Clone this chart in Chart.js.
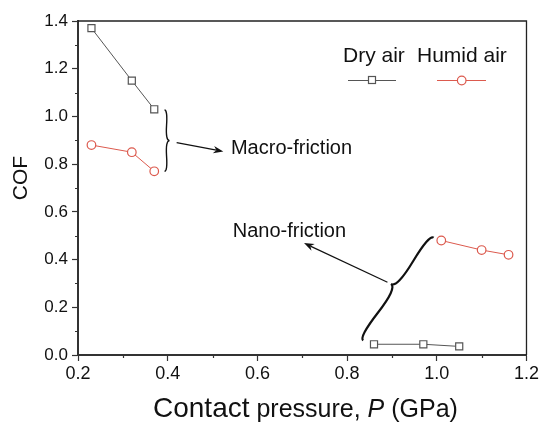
<!DOCTYPE html>
<html>
<head>
<meta charset="utf-8">
<script src="https://cdn.jsdelivr.net/npm/chart.js@4/dist/chart.umd.min.js"></script>
<style>
  html, body { margin: 0; padding: 0; background: #fff; }
  #wrap { width: 541px; height: 423px; }
</style>
</head>
<body>
<div id="wrap"><canvas id="cof" width="541" height="423"></canvas></div>
<script>
// contact pressure (GPa) / COF — first 3 points macro-friction, last 3 nano-friction
const dryP = [0.23, 0.32, 0.37, 0.86, 0.97, 1.05];
const dryCOF = [1.37, 1.15, 1.03, 0.045, 0.045, 0.036];
const humidP = [0.23, 0.32, 0.37, 1.01, 1.10, 1.16];
const humidCOF = [0.88, 0.85, 0.77, 0.48, 0.44, 0.42];
const seriesNames = ["Dry air", "Humid air"];

const xTickLabels = ["0.2", "0.4", "0.6", "0.8", "1.0", "1.2"];
const yTickLabels = ["0.0", "0.2", "0.4", "0.6", "0.8", "1.0", "1.2", "1.4"];

const FONT = "'Liberation Sans', Arial, sans-serif";
const DRY = "#555555";
const HUMID = "#dc5a4e";

function pts(xs, ys, from, to) {
  const out = [];
  for (let i = from; i < to; i++) out.push({ x: xs[i], y: ys[i] });
  return out;
}

function series(label, xs, ys, from, to, color, shape, r) {
  return {
    label: label,
    data: pts(xs, ys, from, to),
    showLine: true,
    borderColor: color,
    borderWidth: 1,
    pointStyle: shape,
    pointRadius: r,
    pointBorderColor: color,
    pointBackgroundColor: "#fff",
    pointBorderWidth: 1.2
  };
}

// annotation positions, in data units
const macroBrace = { x1: 0.393, y1: 0.77, x2: 0.393, y2: 1.027, w: 5 };
const nanoBrace = { x1: 0.993, y1: 0.492, x2: 0.836, y2: 0.061, w: 9 };
const macroArrow = { x1: 0.42, y1: 0.89, x2: 0.524, y2: 0.853 };
const nanoArrow = { x1: 0.89, y1: 0.305, x2: 0.704, y2: 0.469 };
const macroText = { x: 0.541, y: 0.864, text: "Macro-friction" };
const nanoText = { x: 0.545, y: 0.519, text: "Nano-friction" };

function brace(ctx, x1, y1, x2, y2, w, q) {
  let dx = x1 - x2, dy = y1 - y2;
  const len = Math.hypot(dx, dy);
  dx /= len; dy /= len;
  const qx1 = x1 + q * w * dy, qy1 = y1 - q * w * dx;
  const qx2 = (x1 - 0.25 * len * dx) + (1 - q) * w * dy, qy2 = (y1 - 0.25 * len * dy) - (1 - q) * w * dx;
  const tx = (x1 - 0.5 * len * dx) + w * dy, ty = (y1 - 0.5 * len * dy) - w * dx;
  const qx3 = x2 + q * w * dy, qy3 = y2 - q * w * dx;
  const qx4 = (x1 - 0.75 * len * dx) + (1 - q) * w * dy, qy4 = (y1 - 0.75 * len * dy) - (1 - q) * w * dx;
  ctx.beginPath();
  ctx.moveTo(x1, y1);
  ctx.quadraticCurveTo(qx1, qy1, qx2, qy2);
  ctx.quadraticCurveTo(2 * qx2 - qx1, 2 * qy2 - qy1, tx, ty);
  ctx.moveTo(x2, y2);
  ctx.quadraticCurveTo(qx3, qy3, qx4, qy4);
  ctx.quadraticCurveTo(2 * qx4 - qx3, 2 * qy4 - qy3, tx, ty);
  ctx.stroke();
}

function arrow(ctx, x1, y1, x2, y2, head) {
  const a = Math.atan2(y2 - y1, x2 - x1);
  const c = Math.cos(a), s = Math.sin(a);
  ctx.beginPath();
  ctx.moveTo(x1, y1);
  ctx.lineTo(x2 - c * head * 0.7, y2 - s * head * 0.7);
  ctx.stroke();
  ctx.beginPath();
  ctx.moveTo(x2, y2);
  ctx.lineTo(x2 - head * c + head * 0.38 * s, y2 - head * s - head * 0.38 * c);
  ctx.lineTo(x2 - head * 0.7 * c, y2 - head * 0.7 * s);
  ctx.lineTo(x2 - head * c - head * 0.38 * s, y2 - head * s + head * 0.38 * c);
  ctx.closePath();
  ctx.fill();
}

const extras = {
  id: "extras",
  afterDraw(chart) {
    const ctx = chart.ctx;
    const xs = chart.scales.x, ys = chart.scales.y;
    const area = chart.chartArea;
    const px = v => xs.getPixelForValue(v);
    const py = v => ys.getPixelForValue(v);
    ctx.save();

    // frame on top and right
    ctx.strokeStyle = "#222";
    ctx.lineWidth = 1.3;
    ctx.beginPath();
    ctx.moveTo(area.left, area.top);
    ctx.lineTo(area.right, area.top);
    ctx.lineTo(area.right, area.bottom);
    ctx.stroke();

    // minor ticks
    ctx.lineWidth = 1.2;
    ctx.strokeStyle = "#333";
    ctx.beginPath();
    for (let v = 0.3; v < 1.2; v += 0.2) {
      const x = Math.round(px(v)) + 0.5;
      ctx.moveTo(x, area.bottom);
      ctx.lineTo(x, area.bottom + 3);
    }
    for (let v = 0.1; v < 1.4; v += 0.2) {
      const y = Math.round(py(v)) + 0.5;
      ctx.moveTo(area.left, y);
      ctx.lineTo(area.left - 3, y);
    }
    ctx.stroke();

    // braces and arrows
    ctx.strokeStyle = "#111";
    ctx.fillStyle = "#111";
    ctx.lineWidth = 1.4;
    brace(ctx, px(macroBrace.x1), py(macroBrace.y1), px(macroBrace.x2), py(macroBrace.y2), macroBrace.w, 0.6);
    ctx.lineWidth = 2.2;
    brace(ctx, px(nanoBrace.x1), py(nanoBrace.y1), px(nanoBrace.x2), py(nanoBrace.y2), nanoBrace.w, 0.6);
    ctx.lineWidth = 1.2;
    arrow(ctx, px(macroArrow.x1), py(macroArrow.y1), px(macroArrow.x2), py(macroArrow.y2), 10);
    arrow(ctx, px(nanoArrow.x1), py(nanoArrow.y1), px(nanoArrow.x2), py(nanoArrow.y2), 10);

    ctx.font = "20px " + FONT;
    ctx.textBaseline = "middle";
    ctx.textAlign = "left";
    ctx.fillText(macroText.text, px(macroText.x), py(macroText.y));
    ctx.fillText(nanoText.text, px(nanoText.x), py(nanoText.y));

    // legend: name above a line sample
    ctx.font = "21px " + FONT;
    ctx.textBaseline = "alphabetic";
    ctx.fillStyle = "#111";
    ctx.fillText(seriesNames[0], 343, 62);
    ctx.fillText(seriesNames[1], 417, 62);
    ctx.lineWidth = 1;
    ctx.strokeStyle = DRY;
    ctx.beginPath(); ctx.moveTo(348, 80.5); ctx.lineTo(396, 80.5); ctx.stroke();
    ctx.fillStyle = "#fff";
    ctx.lineWidth = 1.2;
    ctx.fillRect(368.5, 76.5, 7, 7);
    ctx.strokeRect(368.5, 76.5, 7, 7);
    ctx.strokeStyle = HUMID;
    ctx.lineWidth = 1;
    ctx.beginPath(); ctx.moveTo(437, 80.5); ctx.lineTo(486, 80.5); ctx.stroke();
    ctx.lineWidth = 1.2;
    ctx.beginPath(); ctx.arc(461.7, 80.5, 4.3, 0, Math.PI * 2); ctx.fill(); ctx.stroke();

    // axis titles
    ctx.fillStyle = "#111";
    ctx.save();
    ctx.translate(27, 178);
    ctx.rotate(-Math.PI / 2);
    ctx.font = "21px " + FONT;
    ctx.textAlign = "center";
    ctx.fillText("COF", 0, 0);
    ctx.restore();

    const parts = [
      ["Contact", "28px " + FONT],
      [" pressure, ", "25px " + FONT],
      ["P", "italic 25px " + FONT],
      [" (GPa)", "25px " + FONT]
    ];
    let x = 153;
    ctx.textAlign = "left";
    for (const [t, f] of parts) {
      ctx.font = f;
      ctx.fillText(t, x, 417);
      x += ctx.measureText(t).width;
    }
    ctx.restore();
  }
};

new Chart(document.getElementById("cof"), {
  type: "scatter",
  data: {
    datasets: [
      series(seriesNames[0], dryP, dryCOF, 0, 3, DRY, "rect", 5),
      series(seriesNames[0], dryP, dryCOF, 3, 6, DRY, "rect", 5),
      series(seriesNames[1], humidP, humidCOF, 0, 3, HUMID, "circle", 4.3),
      series(seriesNames[1], humidP, humidCOF, 3, 6, HUMID, "circle", 4.3)
    ]
  },
  options: {
    responsive: false,
    animation: false,
    layout: { padding: { left: 0, right: 14, top: 21, bottom: 0 } },
    plugins: { legend: { display: false }, tooltip: { enabled: false } },
    scales: {
      x: {
        type: "linear",
        min: 0.2,
        max: 1.2,
        afterFit: s => { s.height = 68; },
        ticks: {
          stepSize: 0.2,
          padding: 2,
          color: "#111",
          font: { family: FONT, size: 18 },
          callback: v => xTickLabels.includes(v.toFixed(1)) ? v.toFixed(1) : ""
        },
        grid: { drawOnChartArea: false, tickLength: 6, tickWidth: 1.2, tickColor: "#333" },
        border: { color: "#333", width: 2 }
      },
      y: {
        min: 0,
        max: 1.4,
        afterFit: s => { s.width = 78; },
        ticks: {
          stepSize: 0.2,
          padding: 4,
          color: "#111",
          font: { family: FONT, size: 17 },
          callback: v => yTickLabels.includes(v.toFixed(1)) ? v.toFixed(1) : ""
        },
        grid: { drawOnChartArea: false, tickLength: 6, tickWidth: 1.2, tickColor: "#333" },
        border: { color: "#333", width: 2 }
      }
    }
  },
  plugins: [extras]
});
</script>
</body>
</html>
